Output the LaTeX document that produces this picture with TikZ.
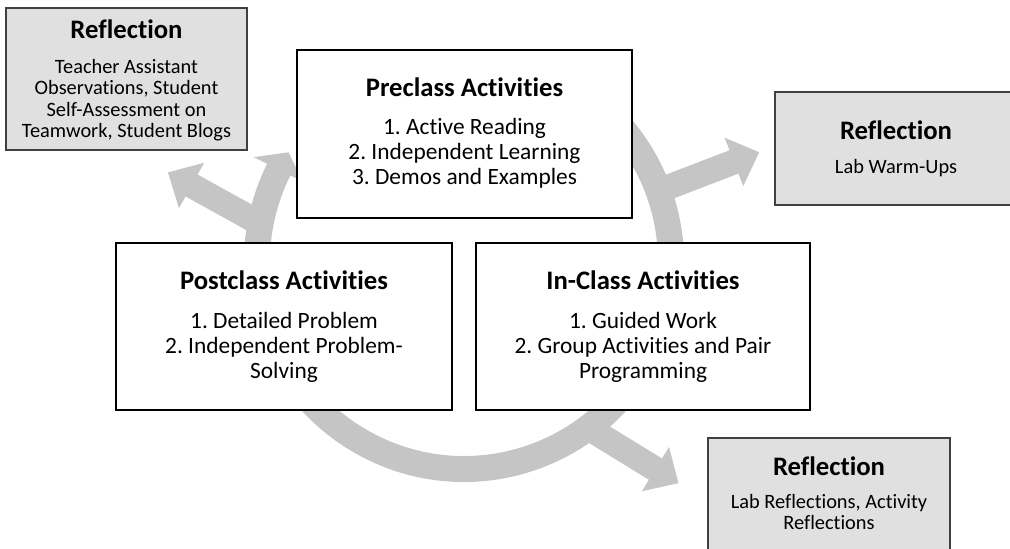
\documentclass[tikz,border=0pt]{standalone}
\usepackage{fontspec}
\setmainfont{Carlito}[Ligatures=NoCommon]
\usetikzlibrary{calc}
\definecolor{ringgray}{HTML}{C4C5C4}
\definecolor{reflfill}{HTML}{E0E0E0}
\definecolor{reflline}{HTML}{404040}
% straight branch arrow: base point, direction, shaft length
\newcommand\branchto[3]{%
  \fill[ringgray,shift={(#1)},rotate=#2]
    (0,-12.5) -- (#3,-12.5) -- (#3,-26) -- ({#3+27},0) -- (#3,26) -- (#3,12.5) -- (0,12.5) -- cycle;}
\frenchspacing
\begin{document}
\begin{tikzpicture}[x=0.02cm,y=0.02cm,
  mainbox/.style={draw=black,line width=0.8pt,fill=white,inner sep=0},
  reflbox/.style={draw=reflline,line width=0.8pt,fill=reflfill,inner sep=0},
  ttl/.style={anchor=base,inner sep=0,font=\fontsize{15.2pt}{18pt}\selectfont\bfseries},
  txt/.style={anchor=base,inner sep=0,font=\fontsize{13.3pt}{14.2pt}\selectfont},
  rtxt/.style={anchor=base,inner sep=0,font=\fontsize{11.6pt}{12pt}\selectfont}]
\clip (0,0) rectangle (1010,548);
\coordinate (C) at (464,286);

% circular arrow, running clockwise and ending in a head at the upper left
\fill[ringgray] ($(C)+(60:220)$) arc[start angle=60,end angle=-206.5,radius=220]
  -- ($(C)+(153.5:235)$) -- ($(C)+(148:207)$) -- ($(C)+(153.5:180)$)
  -- ($(C)+(153.5:194)$) arc[start angle=153.5,end angle=420,radius=194] -- cycle;

% branch arrows leaving the ring
\coordinate (bR) at (654.6,355.6);
\coordinate (bBR) at (591.5,118.1);
\coordinate (bL) at (259.8,324.7);
\branchto{bR}{21}{85}
\branchto{bBR}{-31.5}{75}
\branchto{bL}{151}{78}

% activity boxes
\node[mainbox,minimum width=6.70cm,minimum height=3.36cm] (pre) at (464.5,414) {};
\node[mainbox,minimum width=6.72cm,minimum height=3.34cm] (post) at (284,221.5) {};
\node[mainbox,minimum width=6.68cm,minimum height=3.34cm] (inc) at (643,221.5) {};

\node[ttl] (preT) at (464.5,451.3) {Preclass Activities};
\node[txt] (pre1) at (464.5,413) {1. Active Reading};
\node[txt] (pre2) at (464.5,388) {2. Independent Learning};
\node[txt] (pre3) at (464.5,363) {3. Demos and Examples};

\node[ttl] (postT) at (284,258.3) {Postclass Activities};
\node[txt] (post1) at (284,220) {1. Detailed Problem};
\node[txt] (post2) at (284,195) {2. Independent Problem-};
\node[txt] (post3) at (284,170) {Solving};

\node[ttl] (incT) at (643,258.3) {In-Class Activities};
\node[txt] (inc1) at (643,220) {1. Guided Work};
\node[txt] (inc2) at (643,195) {2. Group Activities and Pair};
\node[txt] (inc3) at (643,170) {Programming};

% reflection boxes
\node[reflbox,minimum width=4.82cm,minimum height=2.84cm] (rTL) at (126.5,469) {};
\node[reflbox,minimum width=4.84cm,minimum height=2.26cm] (rR) at (896,399.5) {};
\node[reflbox,minimum width=4.84cm,minimum height=2.28cm] (rBR) at (829,53) {};

\node[ttl] (rTLT) at (126.5,509.5) {Reflection};
\node[rtxt] (rTL1) at (126.5,474.5) {Teacher Assistant};
\node[rtxt] (rTL2) at (126.5,453.2) {Observations, Student};
\node[rtxt] (rTL3) at (126.5,431.9) {Self-Assessment on};
\node[rtxt] (rTL4) at (126.5,410.6) {Teamwork, Student Blogs};

\node[ttl] (rRT) at (896,408.5) {Reflection};
\node[rtxt] (rR1) at (896,374.5) {Lab Warm-Ups};

\node[ttl] (rBRT) at (829,73) {Reflection};
\node[rtxt] (rBR1) at (829,39.5) {Lab Reflections, Activity};
\node[rtxt] (rBR2) at (829,18.5) {Reflections};
\end{tikzpicture}
\end{document}
